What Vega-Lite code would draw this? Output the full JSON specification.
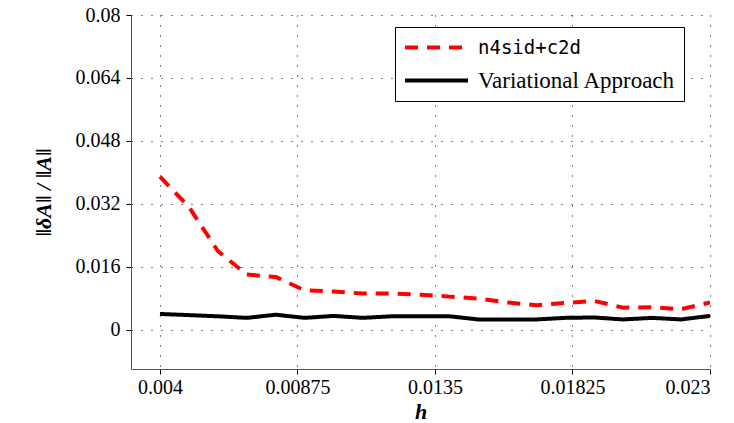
{
  "$schema": "https://vega.github.io/schema/vega-lite/v6.json",
  "width": 579,
  "height": 354,
  "autosize": {"type": "none"},
  "padding": {"left": 131, "top": 15, "right": 24, "bottom": 54},
  "view": {"stroke": null},
  "config": {
    "axis": {
      "gridColor": "black",
      "gridDash": [1, 9],
      "gridOpacity": 1,
      "domainColor": "#555555",
      "tickColor": "black",
      "labelColor": "black",
      "titleColor": "black"
    }
  },
  "data": {
    "values": [
      {"h": 0.004, "series": "n4sid+c2d", "v": 0.0389},
      {"h": 0.005, "series": "n4sid+c2d", "v": 0.0312},
      {"h": 0.006, "series": "n4sid+c2d", "v": 0.0200},
      {"h": 0.007, "series": "n4sid+c2d", "v": 0.0140},
      {"h": 0.008, "series": "n4sid+c2d", "v": 0.0134},
      {"h": 0.009, "series": "n4sid+c2d", "v": 0.0100},
      {"h": 0.010, "series": "n4sid+c2d", "v": 0.0097},
      {"h": 0.011, "series": "n4sid+c2d", "v": 0.0092},
      {"h": 0.012, "series": "n4sid+c2d", "v": 0.0092},
      {"h": 0.013, "series": "n4sid+c2d", "v": 0.0089},
      {"h": 0.014, "series": "n4sid+c2d", "v": 0.0084},
      {"h": 0.015, "series": "n4sid+c2d", "v": 0.0079},
      {"h": 0.016, "series": "n4sid+c2d", "v": 0.0069},
      {"h": 0.017, "series": "n4sid+c2d", "v": 0.0062},
      {"h": 0.018, "series": "n4sid+c2d", "v": 0.0068},
      {"h": 0.019, "series": "n4sid+c2d", "v": 0.0073},
      {"h": 0.020, "series": "n4sid+c2d", "v": 0.0056},
      {"h": 0.021, "series": "n4sid+c2d", "v": 0.0057},
      {"h": 0.022, "series": "n4sid+c2d", "v": 0.0052},
      {"h": 0.023, "series": "n4sid+c2d", "v": 0.0069},
      {"h": 0.004, "series": "Variational Approach", "v": 0.0040},
      {"h": 0.005, "series": "Variational Approach", "v": 0.0037},
      {"h": 0.006, "series": "Variational Approach", "v": 0.0034},
      {"h": 0.007, "series": "Variational Approach", "v": 0.0030},
      {"h": 0.008, "series": "Variational Approach", "v": 0.0038},
      {"h": 0.009, "series": "Variational Approach", "v": 0.0030},
      {"h": 0.010, "series": "Variational Approach", "v": 0.0035},
      {"h": 0.011, "series": "Variational Approach", "v": 0.0030},
      {"h": 0.012, "series": "Variational Approach", "v": 0.0034},
      {"h": 0.013, "series": "Variational Approach", "v": 0.0034},
      {"h": 0.014, "series": "Variational Approach", "v": 0.0034},
      {"h": 0.015, "series": "Variational Approach", "v": 0.0026},
      {"h": 0.016, "series": "Variational Approach", "v": 0.0026},
      {"h": 0.017, "series": "Variational Approach", "v": 0.0026},
      {"h": 0.018, "series": "Variational Approach", "v": 0.0030},
      {"h": 0.019, "series": "Variational Approach", "v": 0.0031},
      {"h": 0.020, "series": "Variational Approach", "v": 0.0026},
      {"h": 0.021, "series": "Variational Approach", "v": 0.0030},
      {"h": 0.022, "series": "Variational Approach", "v": 0.0026},
      {"h": 0.023, "series": "Variational Approach", "v": 0.0035}
    ]
  },
  "mark": {"type": "line", "strokeWidth": 4, "clip": true},
  "encoding": {
    "x": {
      "field": "h",
      "type": "quantitative",
      "scale": {"domain": [0.003, 0.023], "nice": false, "zero": false},
      "axis": {
        "values": [0.004, 0.00875, 0.0135, 0.01825, 0.023],
        "format": ".5~f",
        "tickSize": 5,
        "labelFont": "Liberation Serif",
        "labelFontSize": 20,
        "labelPadding": 3,
        "title": "h",
        "titleFont": "Liberation Serif",
        "titleFontSize": 22,
        "titleFontStyle": "italic",
        "titlePadding": 4
      }
    },
    "y": {
      "field": "v",
      "type": "quantitative",
      "scale": {"domain": [-0.01, 0.08], "nice": false, "zero": false},
      "axis": {
        "values": [0, 0.016, 0.032, 0.048, 0.064, 0.08],
        "format": ".3~f",
        "tickSize": 5,
        "labelFont": "Liberation Serif",
        "labelFontSize": 20,
        "labelPadding": 6,
        "title": "‖δA‖ / ‖A‖",
        "titleFont": "Liberation Serif",
        "titleFontSize": 22,
        "titleFontStyle": "italic",
        "titlePadding": 20
      }
    },
    "color": {
      "field": "series",
      "type": "nominal",
      "scale": {"domain": ["n4sid+c2d", "Variational Approach"], "range": ["#ff0000", "#000000"]},
      "legend": {
        "title": null,
        "orient": "none",
        "legendX": 264,
        "legendY": 12,
        "strokeColor": "black",
        "fillColor": "white",
        "padding": 8,
        "symbolType": "M-3,0H3",
        "symbolSize": 441,
        "symbolStrokeWidth": 4,
        "symbolOffset": 21,
        "labelFont": "Liberation Serif",
        "labelFontSize": 23,
        "labelColor": "black",
        "labelOffset": 29,
        "labelLimit": 400,
        "rowPadding": 10,
        "encode": {
          "labels": {
            "update": {
              "font": {"signal": "datum.label === 'n4sid+c2d' ? 'DejaVu Sans Mono' : 'Liberation Serif'"},
              "fontSize": {"signal": "datum.label === 'n4sid+c2d' ? 19 : 23"}
            }
          }
        }
      }
    },
    "strokeDash": {
      "field": "series",
      "type": "nominal",
      "scale": {"domain": ["n4sid+c2d", "Variational Approach"], "range": [[13, 9], [1, 0]]},
      "legend": null
    }
  }
}
